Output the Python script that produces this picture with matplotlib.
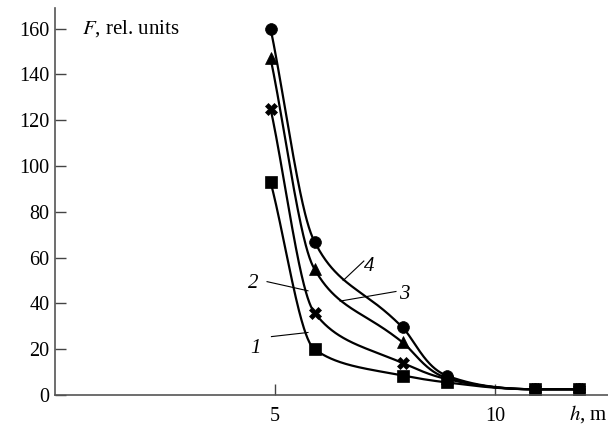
import numpy as np
import matplotlib
matplotlib.use("Agg")
import matplotlib.pyplot as plt

plt.rcParams['font.family'] = ['Liberation Serif', 'DejaVu Serif']
plt.rcParams['mathtext.fontset'] = 'stix'

# data
h = [4.9, 5.9, 7.9, 8.9, 10.9, 11.9]
f1 = [93, 20, 8.5, 5.5, 2.5, 2.5]
f2 = [125, 36, 14, 7.0, 2.5, 2.5]
f3 = [147, 55, 23, 7.5, 2.5, 2.5]
f4 = [160, 67, 29.5, 8.5, 2.5, 2.5]
curves = [f1, f2, f3, f4]
markers = ['s', 'X', '^', 'o']
msizes = [8.5, 9, 8, 8.5]


def pchip(x, y, xs):
    # monotone cubic through the points (Fritsch-Carlson)
    x = np.asarray(x, float)
    y = np.asarray(y, float)
    hh = np.diff(x)
    d = np.diff(y) / hh
    m = np.zeros_like(y)
    for k in range(1, len(x) - 1):
        if d[k - 1] * d[k] > 0:
            w1 = 2 * hh[k] + hh[k - 1]
            w2 = hh[k] + 2 * hh[k - 1]
            m[k] = (w1 + w2) / (w1 / d[k - 1] + w2 / d[k])
    m[0] = d[0]
    m[-1] = d[-1]
    out = np.empty_like(xs)
    for j, xv in enumerate(xs):
        k = min(np.searchsorted(x, xv, side='right') - 1, len(x) - 2)
        t = (xv - x[k]) / hh[k]
        h00 = 2 * t**3 - 3 * t**2 + 1
        h10 = t**3 - 2 * t**2 + t
        h01 = -2 * t**3 + 3 * t**2
        h11 = t**3 - t**2
        out[j] = h00 * y[k] + h10 * hh[k] * m[k] + h01 * y[k + 1] + h11 * hh[k] * m[k + 1]
    return out


def smooth(x, y, xs):
    # steep first drop in linear space, the tail in log space
    lin = pchip(x, y, xs)
    lg = np.exp(pchip(x, np.log(y), xs))
    return np.where(xs < x[1], lin, lg)


fig = plt.figure(figsize=(6.08, 4.25), dpi=100)
ax = fig.add_axes([0.0905, 0.0706, 0.9095, 0.9106])

xs = np.linspace(h[0], h[-1], 500)
for f, mk, ms in zip(curves, markers, msizes):
    ax.plot(xs, smooth(h, f, xs), color='black', lw=1.6)
    ax.plot(h, f, ls='none', marker=mk, ms=ms, color='black', mew=0.5)

ax.set_xlim(0, 12.57)
ax.set_ylim(0, 169)
ax.set_xticks([5, 10])
ax.set_yticks(range(0, 161, 20))
ax.tick_params(direction='in', length=8, width=1, color='#444444', labelsize=14.5)
ax.tick_params(axis='x', pad=9)
ax.tick_params(axis='y', pad=4)
for s in ['top', 'right']:
    ax.spines[s].set_visible(False)
for s in ['left', 'bottom']:
    ax.spines[s].set_color('#555555')
    ax.spines[s].set_linewidth(1.2)

ax.text(0.62, 160, r'$F$, rel. units', fontsize=15, va='center')
ax.text(12.57, -3.5, r'$h$, m', fontsize=15, ha='right', va='top')

# curve labels with leader lines
labels = ['1', '2', '3', '4']
lab_pos = [(4.55, 20.5), (4.5, 48.5), (7.95, 44), (7.15, 56)]
lead = [((4.92, 25.5), (5.75, 27.3)),
        ((4.82, 49.5), (5.75, 45.5)),
        ((6.48, 41.0), (7.75, 45.2)),
        ((6.55, 50.0), (7.02, 58.5))]
for t, p, (a, b) in zip(labels, lab_pos, lead):
    ax.plot([a[0], b[0]], [a[1], b[1]], color='black', lw=0.8)
    ax.text(p[0], p[1], t, fontsize=15, style='italic', ha='center', va='center')

fig.savefig('out.png', dpi=100)
